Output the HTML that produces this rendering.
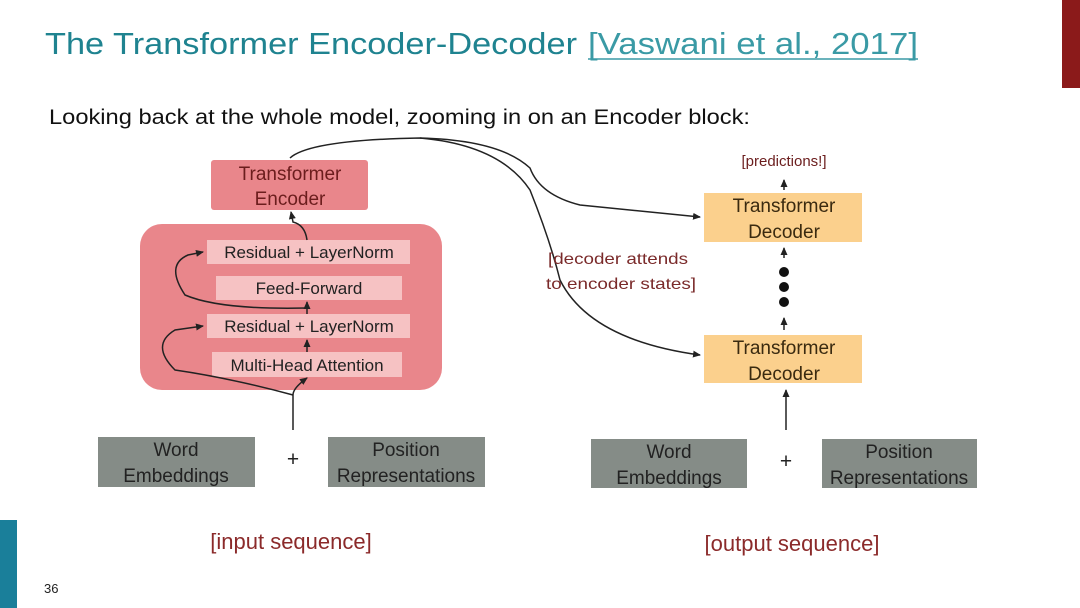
<!DOCTYPE html>
<html><head><meta charset="utf-8"><style>
html,body{margin:0;padding:0;background:#fff}
svg{display:block}
text{font-family:"Liberation Sans","DejaVu Sans",sans-serif}
</style></head><body>
<svg width="1080" height="608" viewBox="0 0 1080 608" xmlns="http://www.w3.org/2000/svg">
<defs><marker id="a" markerWidth="9" markerHeight="9" refX="7" refY="4.5" orient="auto" markerUnits="userSpaceOnUse"><path d="M0,1 L8,4.5 L0,8 z" fill="#222"/></marker></defs>
<rect x="1062" y="0" width="18" height="88" fill="#8b1a1a"/>
<rect x="0" y="520" width="17" height="88" fill="#1a7f9a"/>
<text x="45" y="54" font-size="31" fill="#1f8390" textLength="532" lengthAdjust="spacingAndGlyphs">The Transformer Encoder-Decoder</text>
<text x="588" y="54" font-size="31" fill="#3a9aa5" textLength="330" lengthAdjust="spacingAndGlyphs">[Vaswani et al., 2017]</text>
<line x1="588" y1="59" x2="918" y2="59" stroke="#3a9aa5" stroke-width="1.5"/>
<text x="49" y="124" font-size="21" fill="#111" textLength="701" lengthAdjust="spacingAndGlyphs">Looking back at the whole model, zooming in on an Encoder block:</text>
<rect x="211" y="160" width="157" height="50" rx="3" fill="#e9868b"/>
<text x="290" y="180" font-size="19" fill="#6b1d1d" text-anchor="middle">Transformer</text>
<text x="290" y="205" font-size="19" fill="#6b1d1d" text-anchor="middle">Encoder</text>
<rect x="140" y="224" width="302" height="166" rx="22" fill="#e9868b"/>
<rect x="207" y="240" width="203" height="24" fill="#f6c2c3"/>
<rect x="216" y="276" width="186" height="24" fill="#f6c2c3"/>
<rect x="207" y="314" width="203" height="24" fill="#f6c2c3"/>
<rect x="212" y="352" width="190" height="25" fill="#f6c2c3"/>
<g font-size="17" fill="#222" text-anchor="middle">
<text x="309" y="258">Residual + LayerNorm</text>
<text x="309" y="294">Feed-Forward</text>
<text x="309" y="332">Residual + LayerNorm</text>
<text x="307" y="371">Multi-Head Attention</text>
</g>
<g fill="none" stroke="#222" stroke-width="1.5">
<path d="M293,430 L293,395 Q293,388 307,378" marker-end="url(#a)"/>
<path d="M293,395 Q230,378 175,370 Q150,345 175,330 L203,326" marker-end="url(#a)"/>
<path d="M307,352 L307,340" marker-end="url(#a)"/>
<path d="M307,314 L307,302" marker-end="url(#a)"/>
<path d="M307,308 Q220,310 185,295 Q165,265 188,255 L203,252" marker-end="url(#a)"/>
<path d="M307,240 Q305,225 293,222 L291,212" marker-end="url(#a)"/>
<path d="M290,158 Q310,140 420,138 Q500,140 530,168 Q540,195 580,205 L700,217" marker-end="url(#a)"/>
<path d="M420,138 Q500,145 530,190 Q550,240 560,280 Q590,340 700,355" marker-end="url(#a)"/>
<path d="M784,190 L784,180" marker-end="url(#a)"/>
<path d="M784,258 L784,248" marker-end="url(#a)"/>
<path d="M784,330 L784,318" marker-end="url(#a)"/>
<path d="M786,430 L786,390" marker-end="url(#a)"/>
</g>
<text x="784" y="166" font-size="15" fill="#6b1d1d" text-anchor="middle">[predictions!]</text>
<rect x="704" y="193" width="158" height="49" fill="#fbd08d"/>
<text x="784" y="212" font-size="19" fill="#3a2a10" text-anchor="middle">Transformer</text>
<text x="784" y="238" font-size="19" fill="#3a2a10" text-anchor="middle">Decoder</text>
<circle cx="784" cy="272" r="5" fill="#111"/><circle cx="784" cy="287" r="5" fill="#111"/><circle cx="784" cy="302" r="5" fill="#111"/>
<rect x="704" y="335" width="158" height="48" fill="#fbd08d"/>
<text x="784" y="354" font-size="19" fill="#3a2a10" text-anchor="middle">Transformer</text>
<text x="784" y="380" font-size="19" fill="#3a2a10" text-anchor="middle">Decoder</text>
<text x="548" y="264" font-size="16" fill="#7a2a2a" textLength="140" lengthAdjust="spacingAndGlyphs">[decoder attends</text>
<text x="546" y="289" font-size="16" fill="#7a2a2a" textLength="150" lengthAdjust="spacingAndGlyphs">to encoder states]</text>
<g font-size="19" fill="#222" text-anchor="middle">
<rect x="98" y="437" width="157" height="50" fill="#858c87"/>
<text x="176" y="456">Word</text><text x="176" y="482">Embeddings</text>
<rect x="328" y="437" width="157" height="50" fill="#858c87"/>
<text x="406" y="456">Position</text><text x="406" y="482">Representations</text>
<text x="293" y="466" font-size="21">+</text>
<rect x="591" y="439" width="156" height="49" fill="#858c87"/>
<text x="669" y="458">Word</text><text x="669" y="484">Embeddings</text>
<rect x="822" y="439" width="155" height="49" fill="#858c87"/>
<text x="899" y="458">Position</text><text x="899" y="484">Representations</text>
<text x="786" y="468" font-size="21">+</text>
</g>
<text x="291" y="549" font-size="22" fill="#8b2a2a" text-anchor="middle">[input sequence]</text>
<text x="792" y="551" font-size="22" fill="#8b2a2a" text-anchor="middle">[output sequence]</text>
<text x="44" y="593" font-size="13" fill="#222">36</text>
</svg>
</body></html>
